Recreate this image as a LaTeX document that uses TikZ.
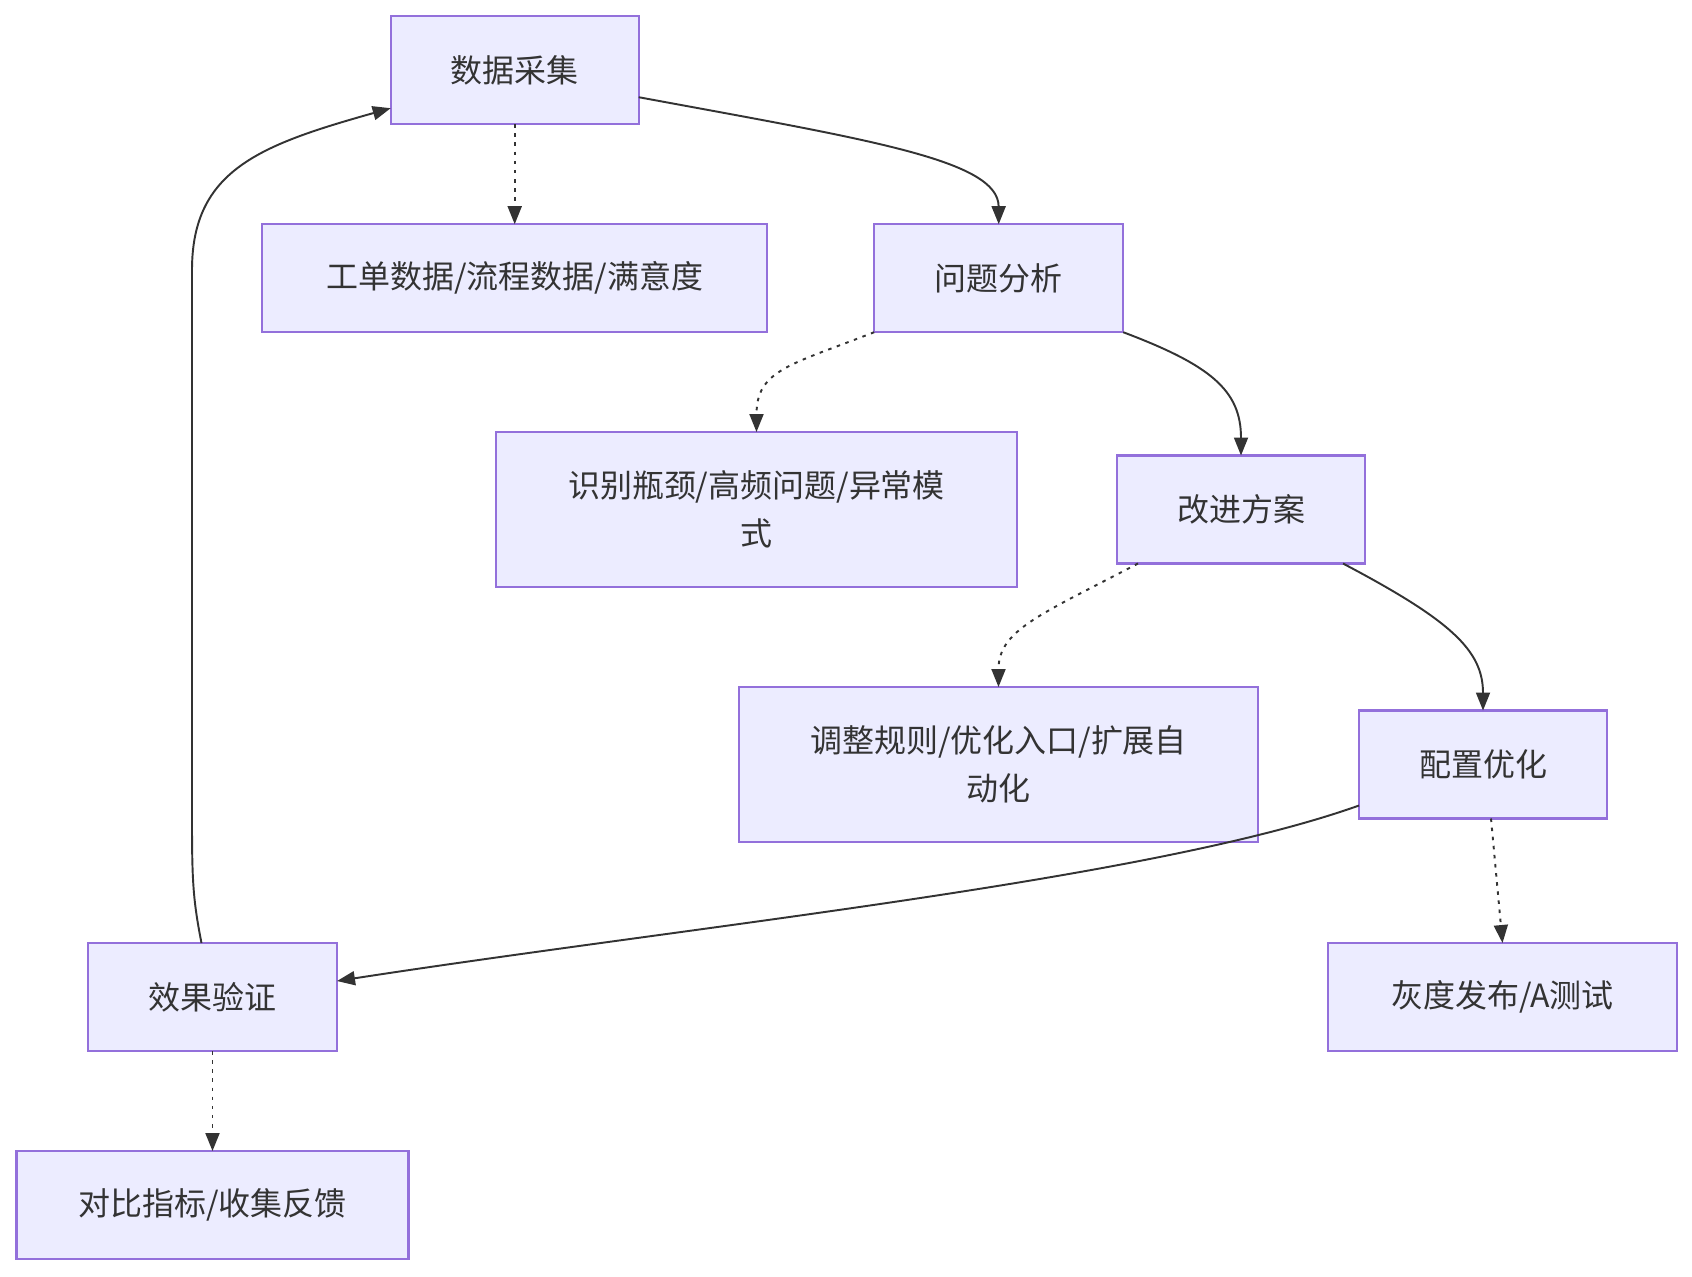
\documentclass[tikz,border=0pt]{standalone}
\usepackage{fontspec}
\setmainfont{Noto Sans CJK SC}
\usetikzlibrary{arrows.meta,positioning}
\definecolor{mmfill}{HTML}{ECECFF}
\definecolor{mmedge}{HTML}{9370DB}
\definecolor{mmline}{HTML}{333333}

\begin{document}
\begin{tikzpicture}[
        >={Triangle[length=0.18cm,width=0.14cm]},
        font=\fontsize{9.1pt}{13.5pt}\selectfont, text=mmline,
        stage/.style={draw=mmedge, line width=0.6pt, fill=mmfill, align=center,
            inner xsep=0pt, outer sep=0pt, minimum height=1.08cm},
        tallstage/.style={stage, minimum height=1.55cm},
        line/.style={->, draw=mmline, line width=0.55pt},
        dline/.style={line, dash pattern=on 1pt off 1.6pt}]
        \useasboundingbox (0,0) rectangle (16.92,-12.76);
        \node[stage, minimum width=2.48cm] (collect) at (5.147,-0.702) {数据采集};
        \node[stage, minimum width=5.05cm, below=1.0cm of collect] (data) {工单数据/流程数据/满意度};
        \node[stage, minimum width=2.49cm, right=1.07cm of data] (analyze) {问题分析};
        \node[tallstage, minimum width=5.21cm] (identify) at (7.565,-5.095) {识别瓶颈/高频问题/异常模\\式};
        \node[stage, minimum width=2.48cm, right=1.0cm of identify] (plan) {改进方案};
        \node[tallstage, minimum width=5.19cm, below=1.0cm of identify, xshift=2.42cm] (adjust) {调整规则/优化入口/扩展自\\动化};
        \node[stage, minimum width=2.48cm, right=1.01cm of adjust] (config) {配置优化};
        \node[stage, minimum width=2.49cm] (verify) at (2.125,-9.97) {效果验证};
        \node[stage, minimum width=3.49cm] (gray) at (15.025,-9.97) {灰度发布/A测试};
        \node[stage, minimum width=3.92cm, below=1.0cm of verify] (compare) {对比指标/收集反馈};
        \draw[dline] (collect) -- (data);
        \draw[line] ([yshift=-0.27cm]collect.east) .. controls (8.70,-1.40) and (9.985,-1.60) .. (analyze.north);
        \draw[dline] (analyze.south west) .. controls (7.90,-3.65) and (7.565,-3.70) .. (identify.north);
        \draw[line] (analyze.south east) .. controls (12.10,-3.65) and (12.41,-3.90) .. (plan.north);
        \draw[dline] ([xshift=0.21cm]plan.south west) .. controls (10.40,-6.15) and (9.985,-6.30) .. (adjust.north);
        \draw[line] ([xshift=-0.22cm]plan.south east) .. controls (14.50,-6.20) and (14.83,-6.50) .. (config.north);
        \draw[dline] ([xshift=0.08cm]config.south) -- (gray.north);
        \draw[line] ([yshift=-0.41cm]config.west) .. controls (11.50,-8.80) and (7.00,-9.25) .. ([yshift=0.16cm]verify.east);
        \draw[line] ([xshift=-0.11cm]verify.north) .. controls (1.93,-9.00) and (1.92,-8.80) .. (1.92,-8.20)
            -- (1.92,-2.70) .. controls (1.92,-1.70) and (2.60,-1.45) .. ([yshift=-0.38cm]collect.west);
        \draw[dline] (verify) -- (compare);
    \end{tikzpicture}
\end{document}
